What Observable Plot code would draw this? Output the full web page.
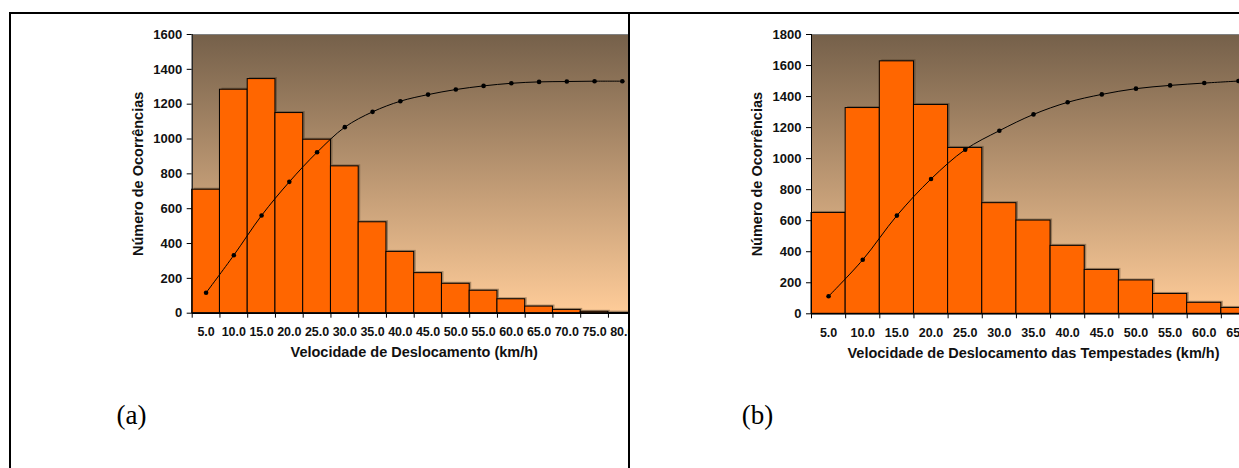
<!DOCTYPE html>
<html><head><meta charset="utf-8">
<script src="https://cdn.jsdelivr.net/npm/d3@7"></script>
<script src="https://cdn.jsdelivr.net/npm/@observablehq/plot@0.6"></script>
<style>
html,body{margin:0;padding:0;background:#fff;overflow:hidden;width:1239px;height:468px;position:relative;}
.clip{position:absolute;top:0;height:468px;overflow:hidden;}
.clip svg{max-width:none !important;height:468px !important;width:660px !important;}
.rule{position:absolute;background:#000;}
</style></head><body>
<div id="pa" class="clip" style="left:0;width:628px"></div>
<div id="pb" class="clip" style="left:630px;width:609px"></div>
<div class="rule" style="left:9px;top:12px;width:1230px;height:2px"></div>
<div class="rule" style="left:9px;top:12px;width:2px;height:456px"></div>
<div class="rule" style="left:628px;top:12px;width:2px;height:456px"></div>
<script>
// ---- Data ----
const speedsA = [5, 10, 15, 20, 25, 30, 35, 40, 45, 50, 55, 60, 65, 70, 75, 80];
const countsA = [709, 1283, 1344, 1149, 996, 843, 522, 352, 230, 169, 129, 80, 38, 19, 8, 3];
const cumA    = [117, 333, 561, 754, 924, 1068, 1156, 1217, 1255, 1284, 1305, 1320, 1328, 1330, 1332, 1332];
const yTicksA = [0, 200, 400, 600, 800, 1000, 1200, 1400, 1600];

const speedsB = [5, 10, 15, 20, 25, 30, 35, 40, 45, 50, 55, 60, 65];
const countsB = [650, 1326, 1627, 1346, 1069, 713, 601, 438, 283, 215, 128, 71, 38];
const cumB    = [113, 348, 633, 869, 1058, 1180, 1285, 1363, 1414, 1451, 1472, 1487, 1500];
const yTicksB = [0, 200, 400, 600, 800, 1000, 1200, 1400, 1600, 1800];

const yTitle = "Número de Ocorrências";
const xTitleA = "Velocidade de Deslocamento (km/h)";
const xTitleB = "Velocidade de Deslocamento das Tempestades (km/h)";

function panel(o) {
  const bars = o.speeds.map((s, i) => ({s, c: o.counts[i]}));
  const line = o.speeds.map((s, i) => ({s, v: o.cum[i]}));
  const lo = o.speeds[0] - 2.5, hi = o.speeds[o.speeds.length - 1] + 2.5;
  const bounds = d3.range(o.speeds.length + 1).map(i => lo + 5 * i);
  const svg = Plot.plot({
    width: o.width, height: 468,
    marginLeft: o.marginLeft, marginRight: o.marginRight, marginTop: 34, marginBottom: o.marginBottom,
    style: {fontFamily: "'Liberation Sans', Arial, sans-serif", fontWeight: "bold", background: "transparent", color: "#111", overflow: "visible"},
    x: {domain: [lo, hi]},
    y: {domain: [0, o.yMax]},
    marks: [
      Plot.frame({fill: `url(#${o.gradId})`, stroke: "#808080"}),
      Plot.rectY(bars, {x1: d => d.s - 2.5, x2: d => d.s + 2.5, y: "c", fill: "#3b2c1c", fillOpacity: 0.4, dx: 2, dy: -1.5}),
      Plot.rectY(bars, {x1: d => d.s - 2.5, x2: d => d.s + 2.5, y: "c", fill: "#FF6600", stroke: "#000", strokeWidth: 1}),
      Plot.line(line, {x: "s", y: "v", curve: "catmull-rom", stroke: "#000", strokeWidth: 1}),
      Plot.dot(line, {x: "s", y: "v", r: 2.3, fill: "#000"}),
      Plot.ruleX([lo], {stroke: "#000"}),
      Plot.ruleY([0], {stroke: "#000", strokeWidth: 1.6}),
      Plot.axisY(o.yTicks, {tickSize: 5, tickPadding: 5, fontSize: 13, tickFormat: d => String(d), label: null, stroke: "#000"}),
      Plot.axisX(bounds, {tickSize: 5, tickFormat: () => "", label: null, stroke: "#000"}),
      Plot.axisX(o.speeds, {tickSize: 0, tickPadding: 14, fontSize: 12.5, tickFormat: d => d.toFixed(1), label: null}),
      Plot.text([o.xTitle], {text: d => d, frameAnchor: "bottom", textAnchor: "middle", lineAnchor: "middle", dy: 39.5, fontSize: 14.5, fontWeight: "bold", fill: "#111"}),
      Plot.text([yTitle], {text: d => d, frameAnchor: "left", textAnchor: "middle", lineAnchor: "middle", dx: -54, rotate: -90, fontSize: 14.5, fontWeight: "bold", fill: "#111"}),
      Plot.text([o.tag], {text: d => d, frameAnchor: "bottom-left", textAnchor: "middle", lineAnchor: "middle", dx: o.tagDx, dy: 102, fontSize: 27, fontWeight: "normal", fill: "#000",
        fontFamily: "'Liberation Serif', 'Times New Roman', serif"})
    ]
  });
  const defs = d3.select(svg).insert("defs", ":first-child");
  const g = defs.append("linearGradient").attr("id", o.gradId).attr("x1", 0).attr("y1", 0).attr("x2", 0).attr("y2", 1);
  g.append("stop").attr("offset", "0%").attr("stop-color", "#75604A");
  g.append("stop").attr("offset", "100%").attr("stop-color", "#FFCC99");
  svg.style.position = "absolute";
  svg.style.left = "0px";
  svg.style.top = "0px";
  svg.style.maxWidth = "none";
  return svg;
}

document.getElementById("pa").appendChild(panel({
  speeds: speedsA, counts: countsA, cum: cumA, yTicks: yTicksA, yMax: 1600,
  xTitle: xTitleA, tag: "(a)", tagDx: -60.7, gradId: "gradA",
  width: 660, marginLeft: 191.7, marginRight: 24.3, marginBottom: 155.3
}));
document.getElementById("pb").appendChild(panel({
  speeds: speedsB, counts: countsB, cum: cumB, yTicks: yTicksB, yMax: 1800,
  xTitle: xTitleB, tag: "(b)", tagDx: -54, gradId: "gradB",
  width: 660, marginLeft: 181, marginRight: 35, marginBottom: 154.7
}));
</script>
</body></html>
